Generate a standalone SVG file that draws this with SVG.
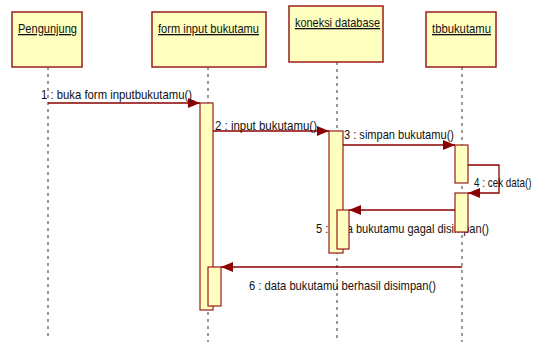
<svg xmlns="http://www.w3.org/2000/svg" width="541" height="342" viewBox="0 0 541 342">
<style>
.box{fill:#FFFFC0;stroke:#9B1C1C;stroke-width:1.5}
.act{fill:#FFFFC0;stroke:#9B1C1C;stroke-width:1.2}
.life{stroke:#555;stroke-width:1.2;stroke-dasharray:3,4;fill:none}
.msg{stroke:#8B0000;stroke-width:1.3;fill:none}
.t{font-family:"Liberation Sans",Arial,sans-serif;font-size:13px;fill:#111}
.u{text-decoration:underline}
</style>
<defs>
<marker id="ah" markerWidth="12" markerHeight="10" refX="12" refY="5" orient="auto" markerUnits="userSpaceOnUse">
<path d="M0,0 L12,5 L0,10 Z" fill="#8B0000"/>
</marker>
</defs>
<g id="lifelines">
<line class="life" x1="48" y1="67" x2="48" y2="336"/>
<line class="life" x1="208" y1="67" x2="208" y2="342"/>
<line class="life" x1="337" y1="62" x2="337" y2="342"/>
<line class="life" x1="462" y1="67" x2="462" y2="342"/>
</g>
<g id="pengunjung">
<rect class="box" x="12" y="12" width="70" height="55"/>
<text class="t u" x="18" y="33" textLength="59" lengthAdjust="spacingAndGlyphs">Pengunjung</text>
</g>
<g id="form-input-bukutamu">
<rect class="box" x="152" y="12" width="114" height="55"/>
<text class="t u" x="158" y="33" textLength="101" lengthAdjust="spacingAndGlyphs">form input bukutamu</text>
</g>
<g id="koneksi-database">
<rect class="box" x="289" y="6" width="94" height="56"/>
<text class="t u" x="295" y="27" textLength="85" lengthAdjust="spacingAndGlyphs">koneksi database</text>
</g>
<g id="tbbukutamu">
<rect class="box" x="426" y="12" width="70" height="55"/>
<text class="t u" x="432" y="33" textLength="59" lengthAdjust="spacingAndGlyphs">tbbukutamu</text>
</g>
<g id="labels-behind">
<text class="t" x="316" y="233" textLength="173" lengthAdjust="spacingAndGlyphs">5 : data bukutamu gagal disimpan()</text>
</g>
<g id="activations">
<rect class="act" x="200" y="103" width="13" height="207"/>
<rect class="act" x="208" y="267" width="13" height="39"/>
<rect class="act" x="329" y="131" width="14" height="122"/>
<rect class="act" x="337" y="210" width="12" height="39"/>
<rect class="act" x="455" y="145" width="13" height="38"/>
<rect class="act" x="455" y="193" width="13" height="39"/>
</g>
<g id="connectors">
<line class="msg" x1="48" y1="103" x2="200" y2="103" marker-end="url(#ah)"/>
<line class="msg" x1="213" y1="131" x2="329" y2="131" marker-end="url(#ah)"/>
<line class="msg" x1="343" y1="145" x2="455" y2="145" marker-end="url(#ah)"/>
<polyline class="msg" points="468,165 499,165 499,193 468,193" marker-end="url(#ah)"/>
<line class="msg" x1="455" y1="210" x2="349" y2="210" marker-end="url(#ah)"/>
<line class="msg" x1="462" y1="267" x2="221" y2="267" marker-end="url(#ah)"/>
</g>
<g id="labels">
<text class="t" x="41" y="99" textLength="151" lengthAdjust="spacingAndGlyphs">1 : buka form inputbukutamu()</text>
<text class="t" x="215" y="130" textLength="102" lengthAdjust="spacingAndGlyphs">2 : input bukutamu()</text>
<text class="t" x="344" y="139" textLength="110" lengthAdjust="spacingAndGlyphs">3 : simpan bukutamu()</text>
<text class="t" transform="translate(474,187) scale(0.76,1)">4 : cek data()</text>
<text class="t" x="249" y="290" textLength="187" lengthAdjust="spacingAndGlyphs">6 : data bukutamu berhasil disimpan()</text>
</g>
</svg>
